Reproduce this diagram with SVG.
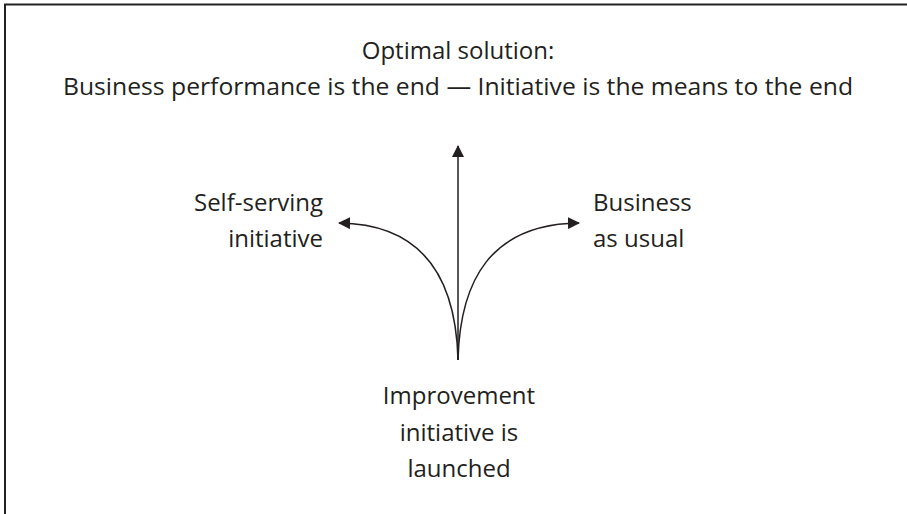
<svg xmlns="http://www.w3.org/2000/svg" width="907" height="514" viewBox="0 0 907 514">
<defs>
<style>
.t{font-family:"Open Sans","Liberation Sans",sans-serif;font-size:24px;fill:#231f20}
.c{text-anchor:middle}
.r{text-anchor:end}
.a{fill:none;stroke:#231f20;stroke-width:1.5}
</style>
<marker id="ah" viewBox="0 0 12 12" refX="11" refY="6" markerWidth="12" markerHeight="12" markerUnits="userSpaceOnUse" orient="auto">
<path d="M0,0 L12,6 L0,12 Z" fill="#231f20"/>
</marker>
</defs>
<rect x="0" y="0" width="907" height="514" fill="#fff"/>
<path d="M5,514 V4.5 H907" fill="none" stroke="#222" stroke-width="2"/>
<g id="title">
<text class="t c" x="458" y="59">Optimal solution:</text>
<text class="t c" x="458" y="95" textLength="790" lengthAdjust="spacingAndGlyphs">Business performance is the end — Initiative is the means to the end</text>
</g>
<g id="left">
<text class="t r" x="323" y="211">Self-serving</text>
<text class="t r" x="323" y="247">initiative</text>
</g>
<g id="right">
<text class="t" x="593" y="211">Business</text>
<text class="t" x="593" y="247">as usual</text>
</g>
<g id="start">
<text class="t c" x="459" y="404">Improvement</text>
<text class="t c" x="459" y="441">initiative is</text>
<text class="t c" x="459" y="477">launched</text>
</g>
<g id="connectors">
<path class="a" d="M458,360 V146" marker-end="url(#ah)"/>
<path class="a" d="M458,360 C456,280 425,224 339,223" marker-end="url(#ah)"/>
<path class="a" d="M458,360 C460,280 491,224 579,223" marker-end="url(#ah)"/>
</g>
</svg>
